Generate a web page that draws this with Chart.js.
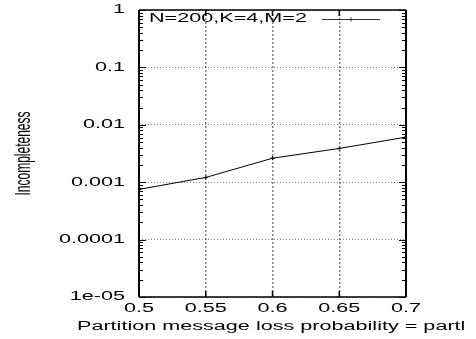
<!DOCTYPE html>
<html>
<head>
<meta charset="utf-8">
<script src="https://cdn.jsdelivr.net/npm/chart.js@4.4.0/dist/chart.umd.min.js"></script>
<style>
html, body { margin: 0; padding: 0; background: #fff; }
</style>
</head>
<body>
<canvas id="myChart" width="476" height="339"></canvas>
<script>
const xValues = [0.5, 0.55, 0.6, 0.65, 0.7];
const incompleteness = [0.00075, 0.00121, 0.00262, 0.00387, 0.0061];
const xTicks = [0.5, 0.55, 0.6, 0.65, 0.7];
const xTickLabels = ["0.5", "0.55", "0.6", "0.65", "0.7"];
const yTicks = [1, 0.1, 0.01, 0.001, 0.0001, 0.00001];
const yTickLabels = ["1", "0.1", "0.01", "0.001", "0.0001", "1e-05"];
const seriesLabel = "N=200,K=4,M=2";
const xTitle = "Partition message loss probability = partl";
const yTitle = "Incompleteness";

// the reference text is stretched sideways, so text is drawn in a scaled context
const SX = 1.8;
const FONT = '12px "Liberation Sans", Arial, sans-serif';

const drawText = (c, text, x, y, align, baseline, rotate) => {
	c.save();
	c.scale(SX, 1);
	c.translate(x / SX, y);
	if (rotate) c.rotate(-Math.PI / 2);
	c.font = FONT;
	c.fillStyle = "#000";
	c.textAlign = align;
	c.textBaseline = baseline;
	c.fillText(text, 0, 0);
	c.restore();
};

const framePlugin = {
	id: "frame",
	afterDraw: (chart) => {
		const c = chart.ctx;
		const a = chart.chartArea;
		const xs = chart.scales.x;
		const ys = chart.scales.y;
		c.save();
		c.strokeStyle = "#000";

		// minor ticks on the log axis
		c.lineWidth = 1;
		c.beginPath();
		for (let i = 1; i < yTicks.length; i++) {
			for (let k = 2; k <= 9; k++) {
				const py = Math.round(ys.getPixelForValue(yTicks[i] * k)) + 0.5;
				c.moveTo(a.left, py);
				c.lineTo(a.left + 4, py);
				c.moveTo(a.right - 4, py);
				c.lineTo(a.right, py);
			}
		}
		yTicks.forEach((v) => {
			const py = Math.round(ys.getPixelForValue(v)) + 0.5;
			c.moveTo(a.left, py);
			c.lineTo(a.left + 7, py);
			c.moveTo(a.right - 7, py);
			c.lineTo(a.right, py);
		});
		c.stroke();
		c.lineWidth = 1.5;
		c.beginPath();
		xTicks.forEach((v) => {
			const px = xs.getPixelForValue(v);
			c.moveTo(px, a.bottom);
			c.lineTo(px, a.bottom - 6);
			c.moveTo(px, a.top);
			c.lineTo(px, a.top + 6);
		});
		c.stroke();

		// plot border
		c.lineWidth = 2;
		c.beginPath();
		c.moveTo(a.left, a.top);
		c.lineTo(a.left, a.bottom);
		c.moveTo(a.right, a.top);
		c.lineTo(a.right, a.bottom);
		c.stroke();
		c.lineWidth = 1.5;
		c.beginPath();
		c.moveTo(a.left, a.top);
		c.lineTo(a.right, a.top);
		c.moveTo(a.left, a.bottom);
		c.lineTo(a.right, a.bottom);
		c.stroke();

		// legend sample
		c.lineWidth = 1;
		c.strokeStyle = "#333";
		c.beginPath();
		c.moveTo(322, 19.5);
		c.lineTo(380, 19.5);
		c.moveTo(351, 17.5);
		c.lineTo(351, 21.5);
		c.moveTo(349, 19.5);
		c.lineTo(353, 19.5);
		c.stroke();
		c.restore();

		// labels
		yTicks.forEach((v, i) => {
			drawText(c, yTickLabels[i], 125, ys.getPixelForValue(v), "right", "middle");
		});
		xTicks.forEach((v, i) => {
			drawText(c, xTickLabels[i], xs.getPixelForValue(v), 309, "center", "middle");
		});
		drawText(c, xTitle, 77, 327, "left", "middle");
		drawText(c, yTitle, 24, (a.top + a.bottom) / 2, "center", "middle", true);
		drawText(c, seriesLabel, 149, 19, "left", "middle");
	},
};

const ctx = document.getElementById("myChart");

new Chart(ctx, {
	type: "scatter",
	data: {
		datasets: [
			{
				label: seriesLabel,
				data: xValues.map((x, i) => ({ x: x, y: incompleteness[i] })),
				showLine: true,
				borderColor: "#000",
				borderWidth: 1,
				pointStyle: "cross",
				pointRadius: 2,
				pointBorderWidth: 1,
				pointBorderColor: "#000",
			},
		],
	},
	options: {
		responsive: false,
		animation: false,
		devicePixelRatio: 1,
		layout: {
			autoPadding: false,
			padding: { left: 139, right: 70, top: 10, bottom: 42 },
		},
		plugins: {
			legend: { display: false },
			tooltip: { enabled: false },
		},
		scales: {
			x: {
				type: "linear",
				min: 0.5,
				max: 0.7,
				afterBuildTicks: (scale) => {
					scale.ticks = xTicks.map((v) => ({ value: v }));
				},
				afterFit: (scale) => {
					scale.height = 0;
				},
				ticks: { display: false },
				grid: { drawTicks: false, color: "rgba(0,0,0,0.5)", lineWidth: 1.5 },
				border: { display: false, dash: [2, 2] },
			},
			y: {
				type: "logarithmic",
				min: 0.00001,
				max: 1,
				afterBuildTicks: (scale) => {
					scale.ticks = yTicks.map((v) => ({ value: v }));
				},
				afterFit: (scale) => {
					scale.width = 0;
				},
				ticks: { display: false },
				grid: { drawTicks: false, color: "rgba(0,0,0,0.5)", lineWidth: 1 },
				border: { display: false, dash: [1, 2] },
			},
		},
	},
	plugins: [framePlugin],
});
</script>
</body>
</html>
